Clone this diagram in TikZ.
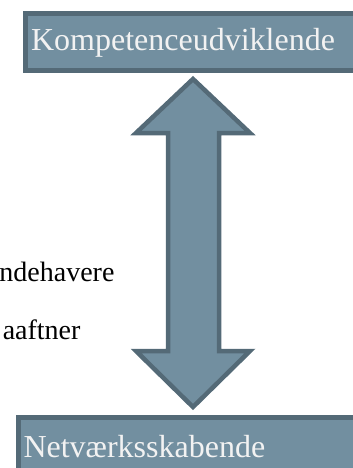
\documentclass[tikz,border=0pt]{standalone}
\usepackage{fontspec}
\setmainfont{Liberation Serif}
\definecolor{boxfill}{HTML}{728FA0}
\definecolor{boxline}{HTML}{546A77}
\definecolor{boxtext}{HTML}{F2F2F2}
\begin{document}
\begin{tikzpicture}[x=1pt,y=-1pt,
    levelbox/.style={fill=boxfill,draw=boxline,line width=5pt},
    leveltext/.style={text=boxtext,font=\fontsize{32}{38}\selectfont},
    sidetext/.style={anchor=east,font=\fontsize{28}{34}\selectfont}]

    % fast ramme for hele billedet
    \useasboundingbox (0,0) rectangle (353,468);

    % øverste boks
    \filldraw[levelbox] (25,14) rectangle (380,71);
    \node[leveltext] (kompetence) at (183,43) {Kompetenceudviklende};

    % nederste boks
    \filldraw[levelbox] (18,417) rectangle (380,490);
    \node[leveltext,anchor=west] (netvaerk) at (20,447) {Netværksskabende};

    % dobbeltpil mellem boksene
    \filldraw[levelbox,line width=4.5pt,line join=miter]
        (193,79) -- (250,133) -- (219,133) -- (219,351) -- (250,351)
        -- (193,407) -- (136,351) -- (168,351) -- (168,133) -- (136,133) -- cycle;

    % tekster i venstre side
    \node[sidetext] (indehavere) at (118,272) {ndehavere};
    \node[sidetext] (aftaler) at (84,330) {aaftner};

\end{tikzpicture}
\end{document}
